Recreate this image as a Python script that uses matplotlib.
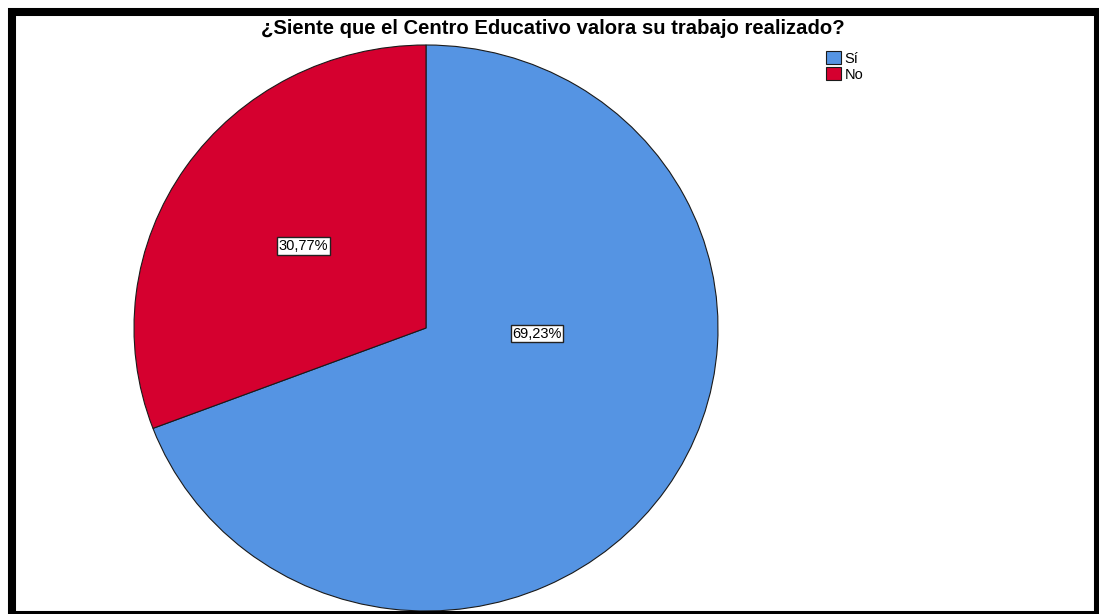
import matplotlib.pyplot as plt
import matplotlib.patches as patches

categorias = ['Sí', 'No']
porcentajes = [69.23, 30.77]
colores = ['#5594E3', '#D5002F']
titulo = '¿Siente que el Centro Educativo valora su trabajo realizado?'

plt.rcParams['font.family'] = ['Liberation Sans', 'DejaVu Sans']

W, H = 1099, 614
fig = plt.figure(figsize=(W / 100, H / 100), dpi=100)

# marco negro grueso alrededor del grafico
marco = patches.Rectangle((12 / W, -1 / H), (1098 - 12) / W, (602 + 1) / H,
                          transform=fig.transFigure, fill=False,
                          edgecolor='black', linewidth=5.8)
fig.add_artist(marco)

cx, cy, rx, ry = 426, 328, 292, 283
ax = fig.add_axes([(cx - rx) / W, (H - cy - ry) / H, 2 * rx / W, 2 * ry / H])

wedges, _ = ax.pie(porcentajes, colors=colores, startangle=90, counterclock=False,
                   wedgeprops=dict(edgecolor='#1a1a1a', linewidth=0.8))
ax.set_aspect('auto')
ax.set_xlim(-1, 1)
ax.set_ylim(-1, 1)

# posiciones de las etiquetas (fraccion del radio)
pos_etiquetas = [(0.38, -0.02), (-0.42, 0.29)]
for p, (x, y) in zip(porcentajes, pos_etiquetas):
    ax.text(x, y, f'{p:.2f}%'.replace('.', ','), ha='center', va='center', fontsize=10.5,
            bbox=dict(boxstyle='square,pad=0.12', facecolor='white', edgecolor='#222222', linewidth=1.0))

fig.text(553 / W, 1 - 28 / H, titulo, ha='center', va='center', fontsize=14.6, fontweight='bold')

fig.legend(wedges, categorias, loc='upper left', bbox_to_anchor=(819 / W, 1 - 44 / H),
           frameon=False, fontsize=10.5, handlelength=1.0, handleheight=1.0,
           handletextpad=0.25, labelspacing=0.1, borderpad=0)

fig.savefig('out.png', dpi=100)
